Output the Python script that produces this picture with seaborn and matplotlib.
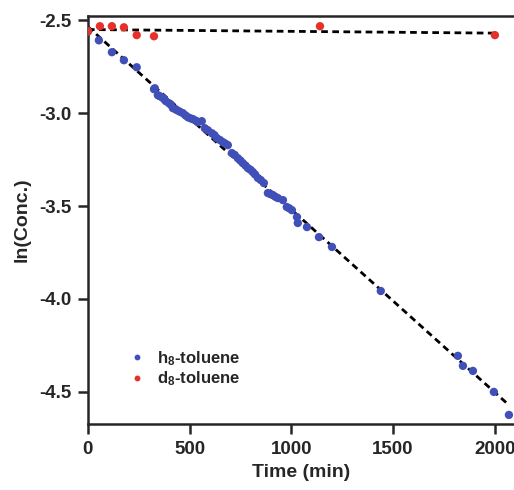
import numpy as np
import pandas as pd
import matplotlib
matplotlib.use('Agg')
import matplotlib.pyplot as plt
import seaborn as sns

# h8-toluene data (time in min, ln of concentration)
h8_time = [0, 54, 118, 177, 240, 325, 329, 344, 352, 364, 375, 383, 398, 408, 418,
           430, 438, 452, 467, 480, 492, 505, 516, 530, 541, 560, 575, 590, 610, 622,
           634, 650, 664, 676, 688, 708, 722, 737, 750, 762, 775, 787, 800, 811, 822,
           836, 850, 865, 885, 898, 910, 922, 934, 959, 978, 990, 1003, 1028, 1032,
           1077, 1136, 1200, 1440, 1819, 1844, 1893, 1996, 2070]
h8_lnc = [-2.56, -2.608, -2.672, -2.715, -2.753, -2.871, -2.866, -2.903, -2.908, -2.914,
          -2.925, -2.935, -2.946, -2.955, -2.973, -2.978, -2.984, -2.992, -3.000, -3.012,
          -3.022, -3.028, -3.032, -3.040, -3.048, -3.043, -3.081, -3.092, -3.108, -3.118,
          -3.134, -3.145, -3.156, -3.164, -3.172, -3.215, -3.225, -3.242, -3.255, -3.269,
          -3.282, -3.296, -3.305, -3.317, -3.330, -3.349, -3.360, -3.376, -3.430, -3.436,
          -3.441, -3.450, -3.457, -3.468, -3.505, -3.512, -3.522, -3.559, -3.591, -3.613,
          -3.667, -3.720, -3.957, -4.306, -4.360, -4.387, -4.500, -4.624]

# d8-toluene data
d8_time = [0, 59, 118, 177, 240, 325, 1141, 2001]
d8_lnc = [-2.559, -2.532, -2.532, -2.538, -2.580, -2.586, -2.532, -2.580]

blue = '#4150b8'
red = '#e8302a'

sns.set_style('ticks')
plt.rcParams['font.family'] = ['Liberation Sans', 'DejaVu Sans']
plt.rcParams['font.weight'] = 'bold'
plt.rcParams['mathtext.fontset'] = 'custom'
plt.rcParams['mathtext.bf'] = 'Liberation Sans:bold'
plt.rcParams['mathtext.rm'] = 'Liberation Sans:bold'
plt.rcParams['mathtext.default'] = 'bf'

df = pd.concat([
    pd.DataFrame({'time': h8_time, 'lnc': h8_lnc, 'species': 'h$_8$-toluene'}),
    pd.DataFrame({'time': d8_time, 'lnc': d8_lnc, 'species': 'd$_8$-toluene'}),
])

fig = plt.figure(figsize=(5.14, 4.90), dpi=100)
ax = fig.add_axes([0.171, 0.135, 0.829, 0.832])

# dashed linear fits
dash = dict(color='black', lw=2.0, ls=(0, (2.4, 1.6)))
sns.regplot(x=h8_time, y=h8_lnc, scatter=False, ci=None, line_kws=dash, ax=ax)
sns.regplot(x=d8_time, y=d8_lnc, scatter=False, ci=None, line_kws=dash, ax=ax)

sns.scatterplot(data=df, x='time', y='lnc', hue='species',
                palette=[blue, red], s=36, edgecolor='none', ax=ax, zorder=3)

ax.set_xlim(0, 2095)
ax.set_ylim(-4.672, -2.478)
ax.set_xticks([0, 500, 1000, 1500, 2000])
ax.set_yticks([-2.5, -3.0, -3.5, -4.0, -4.5])
ax.set_yticklabels(['-2.5', '-3.0', '-3.5', '-4.0', '-4.5'])
ax.tick_params(axis='both', direction='out', length=7, width=1.8, labelsize=13.5, pad=5)

for s in ['left', 'top', 'bottom']:
    ax.spines[s].set_linewidth(1.8)
ax.spines['right'].set_visible(False)

ax.set_xlabel('Time (min)', fontsize=14, fontweight='bold', labelpad=5)
ax.set_ylabel('ln(Conc.)', fontsize=14, fontweight='bold', labelpad=6)

leg = ax.legend(loc='upper left', bbox_to_anchor=(0.04, 0.22), frameon=False,
                handletextpad=0.2, labelspacing=0.1, markerscale=0.7,
                prop={'size': 12, 'weight': 'bold'})

fig.savefig('out.png', dpi=100)
